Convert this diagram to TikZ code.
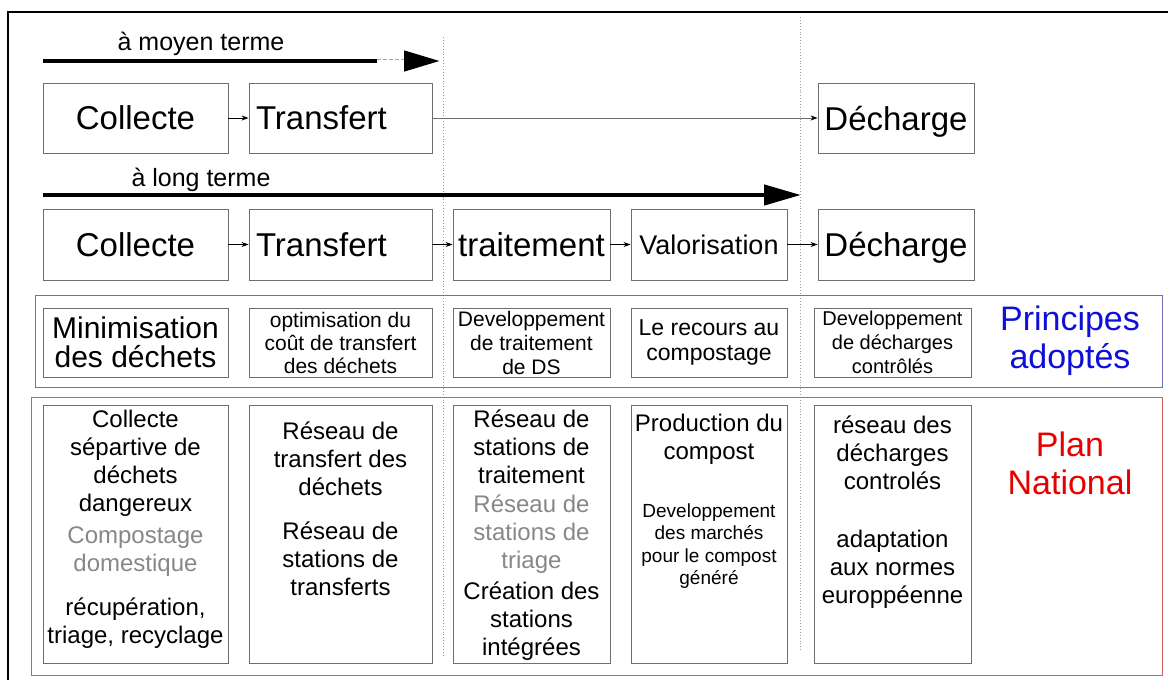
\documentclass[tikz,border=0pt]{standalone}
\usepackage{fontspec}
\setmainfont{Liberation Sans}
\usepackage{xcolor}
\usepackage{tikz}
\usetikzlibrary{arrows.meta,positioning}

\definecolor{boxgray}{RGB}{110,110,110}
\definecolor{frameblue}{RGB}{110,110,185}
\definecolor{framered}{RGB}{205,95,95}
\definecolor{textblue}{RGB}{15,15,215}
\definecolor{textred}{RGB}{230,0,0}
\definecolor{softgray}{RGB}{135,135,135}
\definecolor{dotred}{RGB}{210,120,135}
\definecolor{dotgray}{RGB}{160,160,160}

\begin{document}
\begin{tikzpicture}[x=1pt,y=-1pt,
  every node/.style={inner sep=0pt},
  box/.style={draw=boxgray,line width=0.9pt,align=center},
  rowbox/.style={box,minimum height=70pt,text depth=0pt,font=\fontsize{33}{36}\selectfont},
  pbox/.style={box,minimum height=69pt},
  planbox/.style={box,minimum height=258pt},
  plantxt/.style={align=center,font=\fontsize{24}{28}\selectfont},
  smalltxt/.style={align=center,font=\fontsize{19}{22.3}\selectfont},
  sidetxt/.style={align=center,font=\fontsize{34}{38}\selectfont},
  spantxt/.style={font=\fontsize{25}{28}\selectfont},
  flow/.style={line width=0.8pt,-{Stealth[length=7pt,width=5pt,color=black]}},
  timeline/.style={line width=4.5pt}]
\useasboundingbox (0,0) rectangle (1168,680);

% outer frame (top and left only)
\draw[line width=2.5pt] (8,680) -- (8,12) -- (1168,12);

% separators
\draw[draw=dotred,dotted,line width=0.9pt] (443,37) -- (443,657);
\draw[draw=dotgray,dotted,line width=0.9pt] (800,17) -- (800,652);

% a moyen terme
\node[spantxt] (moyen) at (201,44) {à moyen terme};
\coordinate (mstart) at (43,61);
\coordinate (mdash) at (377,61);
\coordinate (mhead) at (404,61);
\coordinate (mtip) at (440,61);
\draw[timeline] (mstart) -- (mdash);
\draw[draw=black!35,line width=0.8pt,double=white,double distance=3pt,
  dash pattern=on 4pt off 2pt] (mdash) -- (mhead);
\draw[timeline,-{Triangle[length=36pt,width=20pt]}] (mhead) -- (mtip);

\node[rowbox,minimum width=185pt] (col1) at (135.5,118) {Collecte};
\node[rowbox,minimum width=183pt,text width=169pt,align=left] (tra1) at (340.5,118) {Transfert};
\node[rowbox,minimum width=156pt] (dec1) at (896,118) {Décharge};
\draw[flow] (col1) -- (tra1);
\draw[flow,draw=boxgray] (tra1) -- (dec1);

% a long terme
\node[spantxt] (long) at (201,180) {à long terme};
\coordinate (lstart) at (43,195);
\coordinate (ltip) at (801,195);
\draw[timeline,-{Triangle[length=37pt,width=20pt]}] (lstart) -- (ltip);

\node[rowbox,minimum width=185pt,minimum height=71pt] (col2) at (135.5,244.5) {Collecte};
\node[rowbox,minimum width=183pt,minimum height=71pt,text width=169pt,align=left] (tra2) at (340.5,244.5) {Transfert};
\node[rowbox,minimum width=157pt,minimum height=71pt] (trt2) at (531.5,244.5) {traitement};
\node[rowbox,minimum width=156pt,minimum height=71pt,font=\fontsize{27}{30}\selectfont] (val2) at (709,244.5) {Valorisation};
\node[rowbox,minimum width=156pt,minimum height=71pt] (dec2) at (896,244.5) {Décharge};
\draw[flow] (col2) -- (tra2);
\draw[flow] (tra2) -- (trt2);
\draw[flow] (trt2) -- (val2);
\draw[flow] (val2) -- (dec2);

% principes adoptes
\draw[draw=frameblue,line width=1pt] (35,295) rectangle (1162,387);
\node[pbox,minimum width=185pt,font=\fontsize{30}{29}\selectfont] (pri1) at (135.5,342.5) {Minimisation\\des déchets};
\node[pbox,minimum width=183pt,font=\fontsize{21}{23}\selectfont] (pri2) at (340.5,342.5) {optimisation du\\coût de transfert\\des déchets};
\node[pbox,minimum width=157pt,font=\fontsize{21}{24}\selectfont] (pri3) at (531.5,342.5) {Developpement\\de traitement\\de DS};
\node[pbox,minimum width=156pt,font=\fontsize{23}{25}\selectfont] (pri4) at (709,342.5) {Le recours au\\compostage};
\node[pbox,minimum width=157pt,font=\fontsize{20}{24}\selectfont] (pri5) at (892.5,342.5) {Developpement\\de décharges\\contrôlés};
\node[sidetxt,text=textblue] (principes) at (1070,341) {Principes\\adoptés};

% plan national
\draw[draw=framered,line width=1pt] (31,397) rectangle (1162,675);
\node[planbox,minimum width=185pt] (plan1) at (135.5,534) {};
\node[planbox,minimum width=183pt] (plan2) at (340.5,534) {};
\node[planbox,minimum width=157pt] (plan3) at (531.5,534) {};
\node[planbox,minimum width=156pt] (plan4) at (709,534) {};
\node[planbox,minimum width=157pt] (plan5) at (892.5,534) {};

\node[plantxt] (plan1a) at (135.5,463.5) {Collecte\\sépartive de\\déchets\\dangereux};
\node[plantxt,text=softgray] (plan1b) at (135.5,551.5) {Compostage\\domestique};
\node[plantxt] (plan1c) at (135.5,623.5) {récupération,\\triage, recyclage};

\node[plantxt] (plan2a) at (340.5,459) {Réseau de\\transfert des\\déchets};
\node[plantxt] (plan2b) at (340.5,559) {Réseau de\\stations de\\transferts};

\node[plantxt] (plan3a) at (531.5,447) {Réseau de\\stations de\\traitement};
\node[plantxt,text=softgray] (plan3b) at (531.5,534) {Réseau de\\stations de\\triage};
\node[plantxt] (plan3c) at (531.5,621) {Création des\\stations\\intégrées};

\node[plantxt] (plan4a) at (709,439) {Production du\\compost};
\node[smalltxt] (plan4b) at (709,546) {Developpement\\des marchés\\pour le compost\\généré};

\node[plantxt] (plan5a) at (892.5,453) {réseau des\\décharges\\controlés};
\node[plantxt] (plan5b) at (892.5,569) {adaptation\\aux normes\\europpéenne};

\node[sidetxt,text=textred] (national) at (1070,463.5) {Plan\\National};
\end{tikzpicture}
\end{document}
